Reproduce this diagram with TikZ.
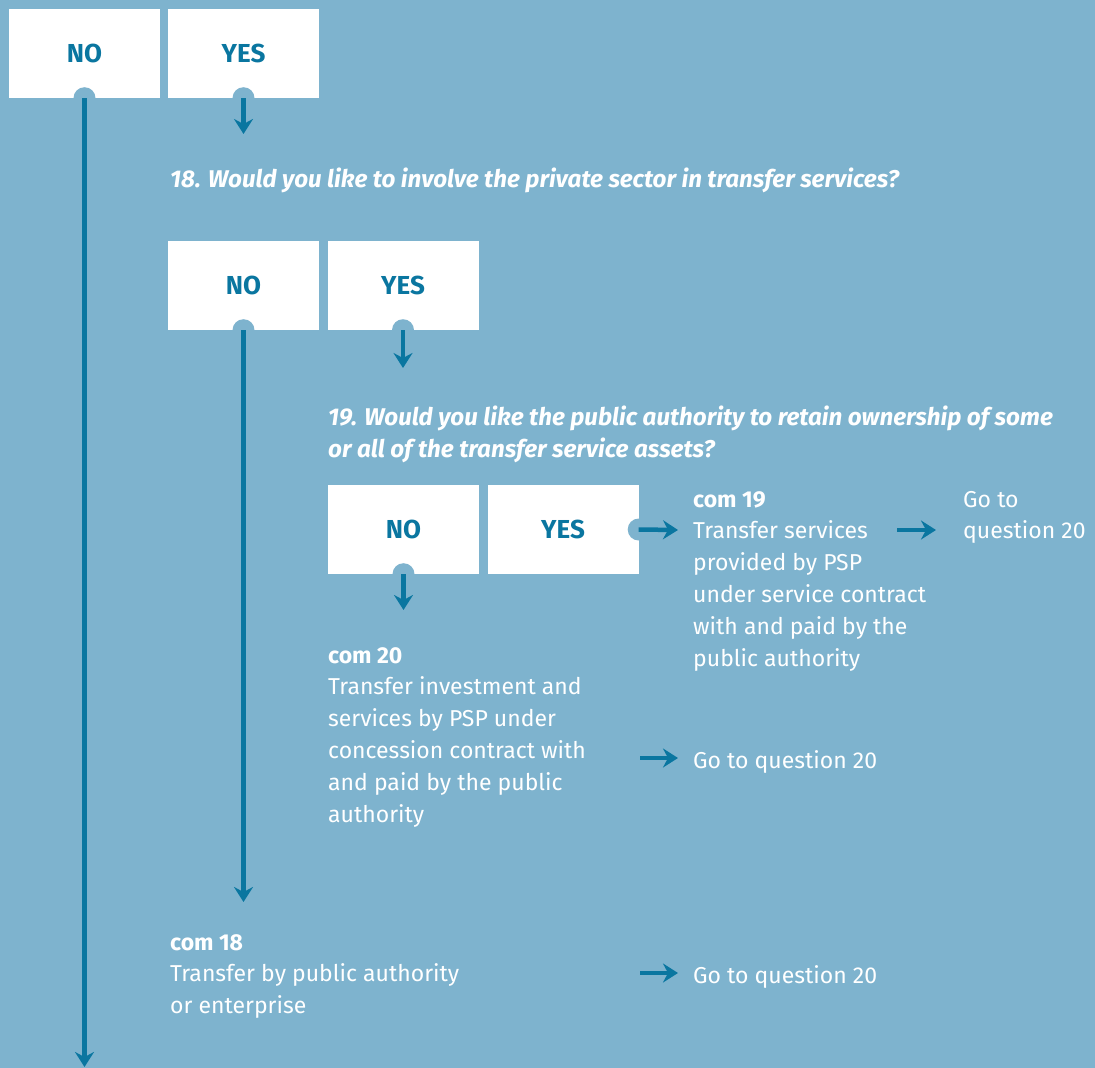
\documentclass[tikz,border=0pt]{standalone}
\usepackage{fontspec}
\setmainfont{Fira Sans}
\usetikzlibrary{arrows.meta}
\definecolor{bgc}{HTML}{7EB3CE}
\definecolor{arrowc}{HTML}{0A76A0}
\begin{document}
\begin{tikzpicture}[x=1pt,y=-1pt,
  box/.style={fill=white, draw=none, minimum width=151pt, minimum height=89pt, inner sep=0pt,
    font=\fontsize{26}{30}\selectfont\bfseries, text=arrowc},
  knob/.style={circle, fill=bgc, minimum size=22pt, inner sep=0pt},
  conn/.style={draw=arrowc, line width=4.5pt, -{Stealth[length=15pt,width=19pt,inset=5pt]}},
  txt/.style={text=white, inner sep=0pt, anchor=base west, font=\fontsize{23}{31.8}\selectfont},
  qtxt/.style={txt, font=\fontsize{24.2}{32}\selectfont\bfseries\itshape},
]
\fill[bgc] (0,0) rectangle (1095,1068);
\useasboundingbox (0,0) rectangle (1095,1068);

% boxes
\node[box] (b1no)  at (84.5,53.5) {NO};
\node[box] (b1yes) at (243.5,53.5) {YES};
\node[box] (b2no)  at (243.5,285.5) {NO};
\node[box] (b2yes) at (403,285.5) {YES};
\node[box] (b3no)  at (403.5,529.5) {NO};
\node[box] (b3yes) at (563,529.5) {YES};

% knobs
\foreach \n in {b1no,b1yes,b2no,b2yes,b3no}{\node[knob] at (\n.south) {};}
\node[knob] at (b3yes.east) {};

% texts
\node[qtxt] (q18) at (170,187) {18. Would you like to involve the private sector in transfer services?};
\node[qtxt] (q19) at (328,425) {\parbox[t]{780pt}{\raggedright 19. Would you like the public authority to retain ownership of some\\or all of the transfer service assets?}};
\node[txt] (c19) at (693,507) {\parbox[t]{260pt}{\raggedright\textbf{com 19}\\Transfer services\\provided by PSP\\under service contract\\with and paid by the\\public authority}};
\node[txt] (g1) at (963,507) {\parbox[t]{140pt}{\raggedright Go to\\question 20}};
\node[txt] (c20) at (328,663) {\parbox[t]{300pt}{\raggedright\textbf{com 20}\\Transfer investment and\\services by PSP under\\concession contract with\\and paid by the public\\authority}};
\node[txt] (g2) at (693,768) {Go to question 20};
\node[txt] (c18) at (170,950) {\parbox[t]{320pt}{\raggedright\textbf{com 18}\\Transfer by public authority\\or enterprise}};
\node[txt] (g3) at (693,983) {Go to question 20};

% end coordinates
\coordinate (e1no) at (84.5,1067);
\coordinate (e1yes) at (243.5,134);
\coordinate (e2no) at (243.5,902);
\coordinate (e2yes) at (403,368);
\coordinate (e3no) at (403.5,610);
\coordinate (e3yes) at (678,530);
\coordinate (s4) at (897,530);
\coordinate (e4) at (936,530);
\coordinate (s5) at (640,758);
\coordinate (e5) at (678,758);
\coordinate (s6) at (640,973);
\coordinate (e6) at (678,973);

% connectors
\draw[conn] (b1no.south) -- (e1no);
\draw[conn] (b1yes.south) -- (e1yes);
\draw[conn] (b2no.south) -- (e2no);
\draw[conn] (b2yes.south) -- (e2yes);
\draw[conn] (b3no.south) -- (e3no);
\draw[conn] (b3yes.east) -- (e3yes);
\draw[conn] (s4) -- (e4);
\draw[conn] (s5) -- (e5);
\draw[conn] (s6) -- (e6);
\end{tikzpicture}
\end{document}
